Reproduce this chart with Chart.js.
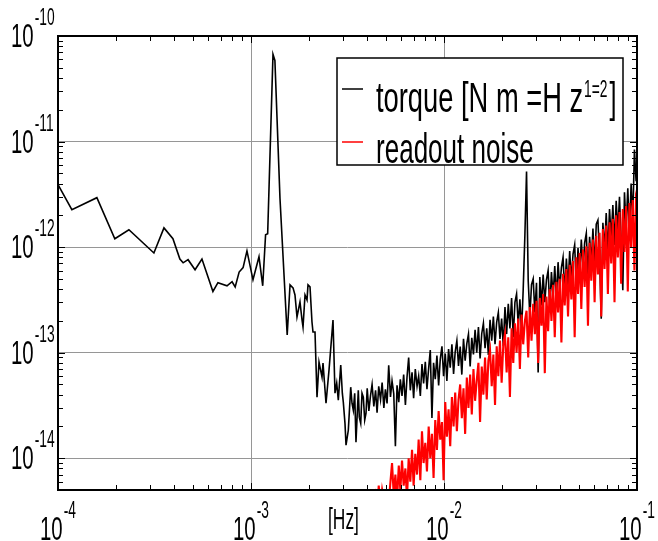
<!DOCTYPE html>
<html>
<head>
<meta charset="utf-8">
<script src="https://cdn.jsdelivr.net/npm/chart.js@4.4.1/dist/chart.umd.min.js"></script>
<style>
  html, body { margin: 0; padding: 0; background: #fff; }
  #wrap { width: 658px; height: 541px; }
</style>
</head>
<body>
<div id="wrap"><canvas id="chart" width="658" height="541"></canvas></div>
<script>
// frequencies in mHz, amplitudes in units of 1e-14 N m/sqrt(Hz)
const FREQ_LO = [
  0.100, 0.118, 0.159, 0.197, 0.233, 0.314, 0.354, 0.394, 0.428, 0.445,
  0.472, 0.513, 0.557, 0.635, 0.674, 0.751, 0.798, 0.828, 0.868, 0.910,
  0.953, 1.024, 1.100, 1.150, 1.190, 1.220, 1.300, 1.330, 1.413, 1.540,
  1.593, 1.651, 1.690, 1.731, 1.794, 1.838, 1.860, 1.905, 1.951, 1.974,
  2.022, 2.070, 2.095, 2.146, 2.198, 2.251, 2.333, 2.361, 2.447, 2.536,
  2.660, 2.724, 2.780, 2.834, 2.917, 2.973, 3.008, 3.069, 3.107, 3.193,
  3.286, 3.337, 3.389, 3.446, 3.499, 3.597, 3.640, 3.702, 3.760, 3.819,
  3.883, 3.944
];
const TORQUE_LO = [
  390, 226, 294, 120, 146, 88, 152, 120, 77, 71,
  76, 61, 77, 38, 46, 43, 47, 42, 58, 64,
  92, 49, 81, 43, 131, 134, 6700, 5870, 290, 14.7,
  43.9, 41.1, 35.2, 21.8, 30.2, 20.4, 17.5, 35.2, 31.6, 43.9,
  42.0, 19.5, 15.7, 15.7, 3.79, 8.14, 5.87, 7.96, 3.32, 6.84,
  20.4, 4.13, 5.14, 3.55, 7.63, 4.13, 3.40, 2.14, 1.33, 1.84,
  4.71, 3.32, 2.85, 4.13, 1.42, 4.41, 2.45, 2.14, 4.13, 3.79,
  2.30, 2.67
];

const FREQ_HI = [
  4.00, 4.08, 4.16, 4.24, 4.33, 4.42, 4.50, 4.59, 4.69, 4.78,
  4.88, 4.97, 5.07, 5.17, 5.28, 5.38, 5.49, 5.60, 5.71, 5.83,
  5.94, 6.06, 6.18, 6.31, 6.43, 6.56, 6.69, 6.83, 6.96, 7.10,
  7.25, 7.39, 7.54, 7.69, 7.84, 8.00, 8.16, 8.33, 8.49, 8.66,
  8.83, 9.01, 9.19, 9.38, 9.56, 9.76, 9.95, 10.15, 10.35, 10.56,
  10.77, 10.99, 11.21, 11.43, 11.66, 11.89, 12.13, 12.37, 12.62, 12.87,
  13.13, 13.39, 13.66, 13.93, 14.21, 14.49, 14.78, 15.08, 15.38, 15.69,
  16.00, 16.32, 16.65, 16.98, 17.32, 17.67, 18.02, 18.38, 18.75, 19.12,
  19.50, 19.89, 20.29, 20.70, 21.11, 21.53, 21.96, 22.40, 22.85, 23.31,
  23.77, 24.25, 24.73, 25.23, 25.73, 26.25, 26.77, 27.31, 27.85, 28.41,
  28.98, 29.56, 30.15, 30.75, 31.37, 32.00, 32.64, 33.29, 33.95, 34.63,
  35.33, 36.03, 36.75, 37.49, 38.24, 39.00, 39.78, 40.58, 41.39, 42.22,
  43.06, 43.92, 44.80, 45.70, 46.61, 47.54, 48.50, 49.47, 50.45, 51.46,
  52.49, 53.54, 54.61, 55.71, 56.82, 57.96, 59.12, 60.30, 61.50, 62.73,
  63.99, 65.27, 66.57, 67.90, 69.26, 70.65, 72.06, 73.50, 74.97, 76.47,
  78.00, 79.56, 81.15, 82.77, 84.43, 86.12, 87.84, 89.60, 91.39, 93.22,
  95.08, 96.98, 98.92, 100.0
];
const TORQUE_HI = [
  4.6, 2.8, 3.9, 5.0, 3.1, 4.4, 2.7, 4.8, 3.6, 5.2,
  3.0, 4.5, 3.3, 7.6, 3.8, 5.4, 4.1, 1.3, 4.9, 3.4,
  5.6, 3.9, 6.2, 3.2, 5.8, 9.0, 4.4, 6.5, 3.7, 7.0,
  4.8, 6.0, 3.9, 7.8, 5.1, 8.2, 4.5, 7.2, 10.6, 2.4,
  8.0, 5.6, 9.4, 4.9, 8.6, 11.5, 6.0, 9.8, 5.4, 10.8,
  7.2, 12.0, 6.3, 10.2, 13.0, 7.5, 11.4, 6.2, 13.5, 8.4,
  12.2, 15.0, 7.4, 13.8, 9.6, 16.5, 10.0, 17.5, 8.8, 15.2,
  19.0, 11.0, 17.0, 9.5, 20.5, 13.0, 22.0, 12.0, 19.5, 24.0,
  13.5, 21.0, 11.5, 27.0, 15.0, 29.0, 17.0, 33.0, 14.0, 30.0,
  36.0, 18.0, 32.0, 16.0, 40.0, 130, 520, 48, 22, 44,
  50, 24, 46, 6.5, 52, 28, 55, 30, 49, 60,
  26, 58, 34, 66, 32, 72, 40, 64, 80, 36,
  78, 42, 92, 48, 86, 105, 40, 98, 55, 118,
  60, 110, 135, 52, 125, 70, 150, 64, 165, 180,
  80, 21, 170, 95, 210, 88, 230, 120, 250, 105,
  275, 140, 300, 115, 39, 330, 150, 360, 130, 400,
  180, 840, 420, 560
];
const NOISE_HI = [
  0.2, 0.3, 0.25, 0.35, 0.3, 0.42, 0.3, 0.55, 0.35, 0.5,
  0.4, 0.3, 0.45, 0.38, 0.6, 0.9, 0.45, 0.7, 0.4, 0.85,
  0.5, 0.95, 0.55, 0.8, 0.42, 1.0, 0.6, 1.2, 0.55, 1.1,
  0.7, 1.5, 0.62, 1.8, 0.9, 1.4, 0.75, 2.0, 1.0, 1.7,
  0.65, 2.3, 1.2, 2.8, 1.5, 2.2, 0.62, 3.4, 1.6, 2.9,
  1.3, 3.8, 2.0, 4.2, 1.8, 3.6, 5.0, 2.4, 4.6, 1.7,
  5.8, 3.0, 6.2, 2.6, 7.0, 3.5, 5.5, 8.0, 2.2, 7.4,
  4.0, 9.0, 3.6, 8.4, 10.5, 4.8, 9.6, 3.2, 11.5, 6.0,
  13.0, 5.2, 12.0, 15.0, 6.5, 14.0, 3.8, 17.0, 8.0, 19.0,
  10.0, 21.0, 7.0, 23.0, 12.0, 20.0, 25.0, 9.0, 27.0, 13.0,
  29, 15, 31, 8, 33, 18, 36, 6.4, 34, 16,
  40, 20, 44, 14, 47, 24, 50, 12.5, 56, 28,
  62, 22, 68, 32, 74, 14, 80, 36, 88, 26,
  95, 42, 102, 18, 110, 48, 118, 30, 128, 55,
  137, 22, 148, 62, 160, 36, 172, 70, 185, 30,
  200, 80, 215, 45, 230, 90, 245, 38, 262, 100,
  280, 60, 320, 350
];

const X_DECADES = [-4, -3, -2, -1];
const Y_DECADES = [-10, -11, -12, -13, -14];
const X_MIN = 1e-4, X_MAX = 1e-1;
const Y_MIN = 5e-15, Y_MAX = 1e-10;
const LEGEND_TORQUE = 'torque [N m =H z';
const LEGEND_SUP = '1=2';
const LEGEND_NOISE = 'readout noise';
const X_UNIT = '[Hz]';

const MHZ = 1e-3;
const UNIT = 1e-14;
const FONT = '"Liberation Sans", Arial, sans-serif';
const SQUEEZE = 0.6;

function toPoints(freqs, vals) {
  return freqs.map((f, i) => ({ x: f * MHZ, y: vals[i] * UNIT }));
}

function measure(ctx, text, size, sq = SQUEEZE) {
  ctx.font = `${size}px ${FONT}`;
  return ctx.measureText(text).width * sq;
}

// text squeezed horizontally, like the narrow face of the original
function narrowText(ctx, text, x, y, size, sq = SQUEEZE) {
  ctx.save();
  ctx.font = `${size}px ${FONT}`;
  ctx.fillStyle = '#000';
  ctx.textAlign = 'left';
  ctx.textBaseline = 'alphabetic';
  ctx.translate(x, y);
  ctx.scale(sq, 1);
  ctx.fillText(text, 0, 0);
  ctx.restore();
}

function powerLabel(ctx, exp, x, y, align) {
  const base = '10';
  const sup = String(exp);
  const wb = measure(ctx, base, 34);
  const ws = measure(ctx, sup, 23);
  const w = wb + 1 + ws;
  const left = align === 'center' ? x - w / 2 : x;
  narrowText(ctx, base, left, y, 34);
  narrowText(ctx, sup, left + wb + 1, y - 22, 23);
}

const framePlugin = {
  id: 'frame',
  afterDraw(chart) {
    const { ctx, chartArea: a, scales } = chart;
    const xs = scales.x, ys = scales.y;

    ctx.save();
    ctx.strokeStyle = '#000';
    ctx.lineWidth = 1;
    ctx.beginPath();
    // minor + major ticks, pointing inwards on all four sides
    for (let d = -4; d <= -2; d++) {
      for (let m = 1; m <= 9; m++) {
        const px = Math.round(xs.getPixelForValue(m * Math.pow(10, d))) + 0.5;
        const len = m === 1 ? 7 : 5;
        ctx.moveTo(px, a.bottom); ctx.lineTo(px, a.bottom - len);
        ctx.moveTo(px, a.top); ctx.lineTo(px, a.top + len);
      }
    }
    for (let d = -15; d <= -11; d++) {
      for (let m = 1; m <= 9; m++) {
        const v = m * Math.pow(10, d);
        if (v < Y_MIN || v > Y_MAX) continue;
        const py = Math.round(ys.getPixelForValue(v)) + 0.5;
        const len = m === 1 ? 7 : 5;
        ctx.moveTo(a.left, py); ctx.lineTo(a.left + len, py);
        ctx.moveTo(a.right, py); ctx.lineTo(a.right - len, py);
      }
    }
    ctx.stroke();

    ctx.lineWidth = 2;
    ctx.strokeRect(a.left, a.top, a.right - a.left, a.bottom - a.top);

    // tick labels
    Y_DECADES.forEach((e) => {
      const py = ys.getPixelForValue(Math.pow(10, e));
      powerLabel(ctx, e, 11, py + 11, 'left');
    });
    X_DECADES.forEach((e) => {
      const px = xs.getPixelForValue(Math.pow(10, e));
      powerLabel(ctx, e, px, a.bottom + 50, 'center');
    });
    narrowText(ctx, X_UNIT, 328, a.bottom + 39, 29);

    // legend
    const bx = a.right - 300, by = a.top + 22, bw = 286, bh = 107;
    ctx.fillStyle = '#fff';
    ctx.fillRect(bx, by, bw, bh);
    ctx.lineWidth = 1.5;
    ctx.strokeStyle = '#000';
    ctx.strokeRect(bx, by, bw, bh);

    ctx.lineWidth = 1.5;
    ctx.beginPath();
    ctx.moveTo(bx + 5, by + 31); ctx.lineTo(bx + 26, by + 31);
    ctx.stroke();
    ctx.strokeStyle = '#ff0000';
    ctx.beginPath();
    ctx.moveTo(bx + 5, by + 84); ctx.lineTo(bx + 26, by + 84);
    ctx.stroke();

    const tx = bx + 39;
    const wide = 0.65;
    narrowText(ctx, LEGEND_TORQUE, tx, by + 54, 42, wide);
    const w1 = measure(ctx, LEGEND_TORQUE, 42, wide);
    narrowText(ctx, LEGEND_SUP, tx + w1 + 1, by + 39, 23, 0.6);
    const w2 = measure(ctx, LEGEND_SUP, 23, 0.6);
    narrowText(ctx, ']', tx + w1 + w2 + 3, by + 54, 42);
    narrowText(ctx, LEGEND_NOISE, tx, by + 105, 42, 0.62);
    ctx.restore();
  }
};

function logAxis(min, max, decades) {
  return {
    type: 'logarithmic',
    min: min,
    max: max,
    afterBuildTicks: (axis) => {
      axis.ticks = decades.map((e) => ({ value: Math.pow(10, e) }));
    },
    ticks: { display: false },
    grid: { color: '#969696', lineWidth: 1, drawTicks: false },
    border: { display: false },
  };
}

new Chart(document.getElementById('chart'), {
  type: 'line',
  data: {
    datasets: [
      {
        label: 'torque',
        data: toPoints(FREQ_LO.concat(FREQ_HI), TORQUE_LO.concat(TORQUE_HI)),
        borderColor: '#000',
        borderWidth: 1.6,
        pointRadius: 0,
        tension: 0,
        order: 1,
      },
      {
        label: 'readout noise',
        data: toPoints(FREQ_HI, NOISE_HI),
        borderColor: '#ff0000',
        borderWidth: 2.1,
        pointRadius: 0,
        tension: 0,
        order: 0,
      },
    ],
  },
  options: {
    responsive: false,
    animation: false,
    devicePixelRatio: 1,
    layout: { padding: { left: 58, right: 21, top: 36, bottom: 51 } },
    plugins: { legend: { display: false }, tooltip: { enabled: false } },
    scales: {
      x: logAxis(X_MIN, X_MAX, X_DECADES),
      y: logAxis(Y_MIN, Y_MAX, Y_DECADES),
    },
  },
  plugins: [framePlugin],
});
</script>
</body>
</html>
